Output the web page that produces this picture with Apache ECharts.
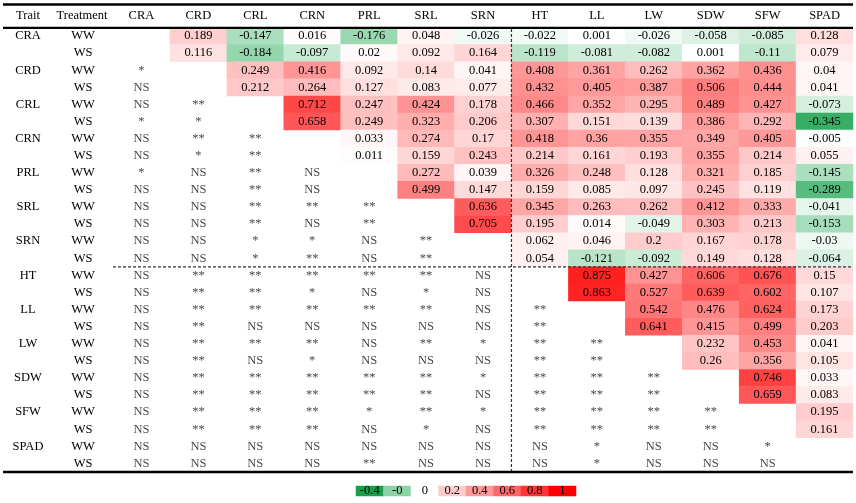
<!DOCTYPE html>
<html>
<head>
<meta charset="utf-8">
<script src="https://cdn.jsdelivr.net/npm/echarts@6/dist/echarts.min.js"></script>
<style>
html,body{margin:0;padding:0;background:#fff;}
#c{width:856px;height:503px;}
</style>
</head>
<body>
<div id="c"></div>
<script>
// ---------- data ----------
const traits = ['CRA','CRD','CRL','CRN','PRL','SRL','SRN','HT','LL','LW','SDW','SFW','SPAD'];
const treatments = ['WW','WS'];
const headerLabels = ['Trait','Treatment'];
// upper triangle: correlation of trait i with traits j>i
const corrWW = [
  [0.189,-0.147,0.016,-0.176,0.048,-0.026,-0.022,0.001,-0.026,-0.058,-0.085,0.128],
  [0.249,0.416,0.092,0.14,0.041,0.408,0.361,0.262,0.362,0.436,0.04],
  [0.712,0.247,0.424,0.178,0.466,0.352,0.295,0.489,0.427,-0.073],
  [0.033,0.274,0.17,0.418,0.36,0.355,0.349,0.405,-0.005],
  [0.272,0.039,0.326,0.248,0.128,0.321,0.185,-0.145],
  [0.636,0.345,0.263,0.262,0.412,0.333,-0.041],
  [0.062,0.046,0.2,0.167,0.178,-0.03],
  [0.875,0.427,0.606,0.676,0.15],
  [0.542,0.476,0.624,0.173],
  [0.232,0.453,0.041],
  [0.746,0.033],
  [0.195],
  []
];
const corrWS = [
  [0.116,-0.184,-0.097,0.02,0.092,0.164,-0.119,-0.081,-0.082,0.001,-0.11,0.079],
  [0.212,0.264,0.127,0.083,0.077,0.432,0.405,0.387,0.506,0.444,0.041],
  [0.658,0.249,0.323,0.206,0.307,0.151,0.139,0.386,0.292,-0.345],
  [0.011,0.159,0.243,0.214,0.161,0.193,0.355,0.214,0.055],
  [0.499,0.147,0.159,0.085,0.097,0.245,0.119,-0.289],
  [0.705,0.195,0.014,-0.049,0.303,0.213,-0.153],
  [0.054,-0.121,-0.092,0.149,0.128,-0.064],
  [0.863,0.527,0.639,0.602,0.107],
  [0.641,0.415,0.499,0.203],
  [0.26,0.356,0.105],
  [0.659,0.083],
  [0.161],
  []
];
// lower triangle: significance of trait i with traits j<i
const sigWW = [
  [],
  ['*'],
  ['NS','**'],
  ['NS','**','**'],
  ['*','NS','**','NS'],
  ['NS','NS','**','**','**'],
  ['NS','NS','*','*','NS','**'],
  ['NS','**','**','**','**','**','NS'],
  ['NS','**','**','**','**','**','NS','**'],
  ['NS','**','**','**','NS','**','*','**','**'],
  ['NS','**','**','**','**','**','*','**','**','**'],
  ['NS','**','**','**','*','**','*','**','**','**','**'],
  ['NS','NS','NS','NS','NS','NS','NS','NS','*','NS','NS','*']
];
const sigWS = [
  [],
  ['NS'],
  ['*','*'],
  ['NS','*','**'],
  ['NS','NS','**','NS'],
  ['NS','NS','**','NS','**'],
  ['NS','NS','*','**','NS','**'],
  ['NS','**','**','*','NS','*','NS'],
  ['NS','**','NS','NS','NS','NS','NS','**'],
  ['NS','**','NS','*','NS','NS','NS','**','**'],
  ['NS','**','**','**','**','**','NS','**','**','**'],
  ['NS','**','**','**','NS','*','NS','**','**','**','**'],
  ['NS','NS','NS','NS','**','NS','NS','NS','*','NS','NS','NS']
];
const legendValues = [-0.4,-0.2,0,0.2,0.4,0.6,0.8,1];
const legendLabels = ['-0.4','-0','0','0.2','0.4','0.6','0.8','1'];
const colorStops = ['#17a04c','#8bd3a6','#ffffff','#ffcccc','#ff9999','#ff6666','#ff3333','#ff0000'];

// ---------- build ----------
const rowKeys = [];
traits.forEach(t => treatments.forEach(tr => rowKeys.push(t + '|' + tr)));
const heat = [];
const sig = [];
traits.forEach((t, i) => {
  [corrWW, corrWS].forEach((m, k) => {
    const r = 2 * i + k;
    m[i].forEach((v, n) => heat.push([i + 1 + n, r, v]));
  });
  [sigWW, sigWS].forEach((m, k) => {
    const r = 2 * i + k;
    m[i].forEach((s, j) => sig.push({ value: [j, r], label: { formatter: s } }));
  });
});

const FONT = 'Liberation Serif';
const FS = 12.5;
const G = { left: 113, top: 27.5, width: 740, height: 444.5 };
const xB = G.left + 7 * G.width / traits.length;
const yB = G.top + 14 * G.height / rowKeys.length;
const txt = (s, x, y) => ({ type: 'text', z: 100,
  style: { text: s, x: x, y: y, fontSize: FS, fontFamily: FONT, fill: '#000', align: 'center', verticalAlign: 'middle' } });

const chart = echarts.init(document.getElementById('c'), null, { renderer: 'canvas' });
chart.setOption({
  animation: false,
  textStyle: { fontFamily: FONT },
  grid: [
    { left: G.left, top: G.top, width: G.width, height: G.height },
    { left: 356, top: 486, width: 220, height: 10 }
  ],
  xAxis: [
    { type: 'category', gridIndex: 0, data: traits, position: 'top',
      axisLine: { show: false }, axisTick: { show: false }, splitLine: { show: false },
      axisLabel: { color: '#000', fontFamily: FONT, fontSize: FS, margin: 11.5, verticalAlign: 'middle', interval: 0 } },
    { type: 'category', gridIndex: 1, data: legendLabels, show: false }
  ],
  yAxis: [
    { type: 'category', gridIndex: 0, data: rowKeys, inverse: true,
      axisLine: { show: false }, axisTick: { show: false }, splitLine: { show: false },
      axisLabel: { interval: 0, color: '#000', fontFamily: FONT, fontSize: FS, align: 'center', margin: 30,
        formatter: v => v.split('|')[1] } },
    { type: 'category', gridIndex: 0, data: rowKeys, inverse: true, position: 'left',
      axisLine: { show: false }, axisTick: { show: false }, splitLine: { show: false },
      axisLabel: { interval: 0, color: '#000', fontFamily: FONT, fontSize: FS, align: 'center', margin: 85,
        formatter: v => { const p = v.split('|'); return p[1] === 'WW' ? p[0] : ''; } } },
    { type: 'category', gridIndex: 1, data: ['legend'], show: false }
  ],
  visualMap: {
    type: 'continuous', show: false, min: -0.4, max: 1, dimension: 2,
    seriesIndex: [0, 2], inRange: { color: colorStops }
  },
  series: [
    { type: 'heatmap', xAxisIndex: 0, yAxisIndex: 0, data: heat,
      label: { show: true, color: '#000', fontFamily: FONT, fontSize: FS, formatter: p => String(p.value[2]) },
      emphasis: { disabled: true }, itemStyle: { borderWidth: 0 } },
    { type: 'scatter', xAxisIndex: 0, yAxisIndex: 0, data: sig, symbolSize: 1,
      itemStyle: { color: 'rgba(0,0,0,0)' },
      label: { show: true, position: 'inside', color: '#111', fontFamily: FONT, fontSize: FS },
      emphasis: { disabled: true } },
    { type: 'heatmap', xAxisIndex: 1, yAxisIndex: 2,
      data: legendValues.map((v, i) => [i, 0, v]),
      label: { show: true, color: '#000', fontFamily: FONT, fontSize: FS, formatter: p => legendLabels[p.value[0]] },
      emphasis: { disabled: true } }
  ],
  graphic: [
    txt(headerLabels[0], 28, 16),
    txt(headerLabels[1], 82, 16),
    { type: 'line', z: 100, shape: { x1: 3, y1: 4.5, x2: 853, y2: 4.5 }, style: { stroke: '#000', lineWidth: 2.4 } },
    { type: 'line', z: 100, shape: { x1: 3, y1: 27.8, x2: 853, y2: 27.8 }, style: { stroke: '#000', lineWidth: 2.2 } },
    { type: 'line', z: 100, shape: { x1: 3, y1: 472, x2: 853, y2: 472 }, style: { stroke: '#000', lineWidth: 2.4 } },
    { type: 'line', z: 100, shape: { x1: xB, y1: 29, x2: xB, y2: 471 }, style: { stroke: '#333', lineWidth: 1.2, lineDash: [3, 2] } },
    { type: 'line', z: 100, shape: { x1: G.left, y1: yB, x2: 853, y2: yB }, style: { stroke: '#333', lineWidth: 1.2, lineDash: [3, 2] } }
  ]
});
</script>
</body>
</html>
